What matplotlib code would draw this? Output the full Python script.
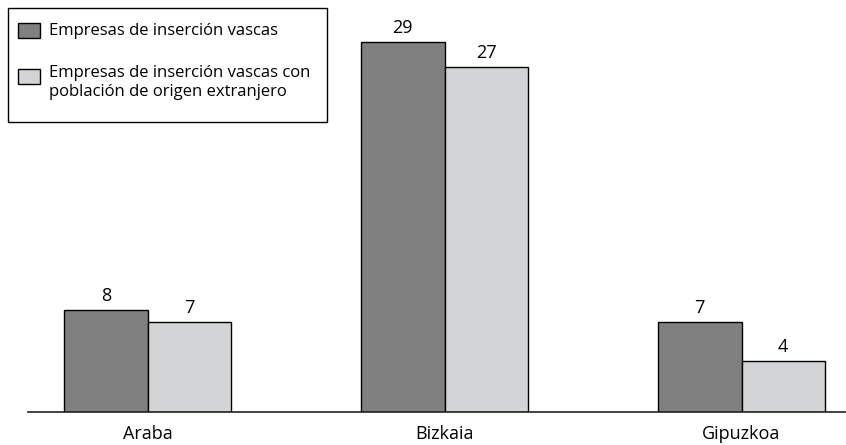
import matplotlib
matplotlib.use("Agg")
import matplotlib.pyplot as plt
from matplotlib.patches import Rectangle
import numpy as np

plt.rcParams['font.family'] = ['Open Sans', 'DejaVu Sans']

# Datos
territorios = ["Araba", "Bizkaia", "Gipuzkoa"]
empresas = [8, 29, 7]
empresas_extranjero = [7, 27, 4]
etiquetas = ["Empresas de inserción vascas",
             "Empresas de inserción vascas con\npoblación de origen extranjero"]

W, H = 846, 445
fig = plt.figure(figsize=(W / 100, H / 100), dpi=100)

# axes: x=0 at px 147.5, 297 px per category; baseline at px 411.5
x_left, x_right = 28, 846
ax = fig.add_axes([x_left / W, (H - 411.5) / H, (x_right - x_left) / W, 408 / H])
ax.set_xlim((x_left - 147.5) / 297, (x_right - 147.5) / 297)
ax.set_ylim(0, 32)

x = np.arange(len(territorios))
bw = 0.281
b1 = ax.bar(x - bw / 2, empresas, bw, color="#808080", edgecolor="black", linewidth=1)
b2 = ax.bar(x + bw / 2, empresas_extranjero, bw, color="#d3d4d6", edgecolor="black", linewidth=1)
ax.bar_label(b1, padding=3.5, fontsize=13)
ax.bar_label(b2, padding=3.5, fontsize=13)

for s in ["top", "right", "left"]:
    ax.spines[s].set_visible(False)
ax.spines["bottom"].set_linewidth(1.2)
ax.spines["bottom"].set_color("#222222")
ax.set_yticks([])
ax.set_xticks(x)
ax.set_xticklabels(territorios, fontsize=13)
ax.tick_params(axis="x", length=0, pad=9.5)

# leyenda
def fx(px):
    return px / W

def fy(py):
    return (H - py) / H

fig.add_artist(Rectangle((fx(8), fy(122)), fx(327) - fx(8), fy(8) - fy(122),
                         transform=fig.transFigure, fill=False, edgecolor="black", linewidth=1))
fig.add_artist(Rectangle((fx(18), fy(38)), fx(40) - fx(18), fy(23) - fy(38),
                         transform=fig.transFigure, facecolor="#808080", edgecolor="black", linewidth=1))
fig.add_artist(Rectangle((fx(18), fy(84)), fx(40) - fx(18), fy(69) - fy(84),
                         transform=fig.transFigure, facecolor="#d3d4d6", edgecolor="black", linewidth=1))
fig.text(fx(49), fy(31), etiquetas[0], fontsize=12, va="center", ha="left")
fig.text(fx(49), fy(65), etiquetas[1], fontsize=12, va="top", ha="left", linespacing=1.25)

fig.savefig("out.png", dpi=100)
